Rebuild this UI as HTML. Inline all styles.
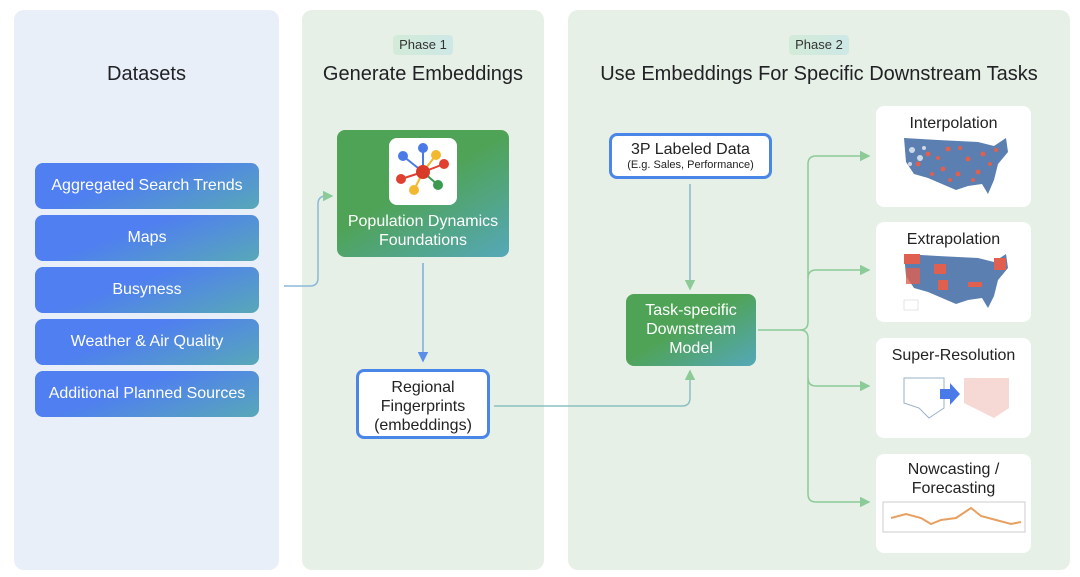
<!DOCTYPE html>
<html><head><meta charset="utf-8"><style>
*{margin:0;padding:0;box-sizing:border-box}
body{width:1080px;height:577px;background:#fff;position:relative;overflow:hidden;font-family:"Liberation Sans",sans-serif;color:#222}
.abs{position:absolute}
.panel{position:absolute;border-radius:10px}
.title{position:absolute;font-size:20px;text-align:center;color:#202124}
.badge{position:absolute;height:20px;border-radius:4px;background:linear-gradient(90deg,#d3ebd8,#cde8e6);font-size:13px;color:#333;text-align:center;line-height:20px}
.ds{position:absolute;left:35px;width:224px;height:46px;border-radius:8px;background:linear-gradient(160deg,#4f7ff0 40%,#58a8b8);color:#fff;font-size:16px;text-align:center;line-height:46px}
.green{position:absolute;border-radius:8px;background:linear-gradient(150deg,#4fa357 45%,#55a8b8);color:#fff;text-align:center}
.wb{position:absolute;background:#fff;border:3px solid #4a86e8;border-radius:8px;text-align:center;color:#222}
.card{position:absolute;left:876px;width:155px;background:#fff;border-radius:8px;text-align:center;font-size:16px;color:#222}
</style></head><body>
<div class="panel" style="left:14px;top:10px;width:265px;height:560px;background:#e8eff9"></div>
<div class="panel" style="left:302px;top:10px;width:242px;height:560px;background:#e7f0e7"></div>
<div class="panel" style="left:568px;top:10px;width:502px;height:560px;background:#e7f0e7"></div>

<div class="title" style="left:14px;width:265px;top:63px">Datasets</div>
<div class="badge" style="left:393px;top:35px;width:60px">Phase 1</div>
<div class="title" style="left:302px;width:242px;top:63px">Generate Embeddings</div>
<div class="badge" style="left:789px;top:35px;width:60px">Phase 2</div>
<div class="title" style="left:568px;width:502px;top:63px">Use Embeddings For Specific Downstream Tasks</div>

<div class="ds" style="top:163px">Aggregated Search Trends</div>
<div class="ds" style="top:215px">Maps</div>
<div class="ds" style="top:267px">Busyness</div>
<div class="ds" style="top:319px">Weather &amp; Air Quality</div>
<div class="ds" style="top:371px">Additional Planned Sources</div>

<div class="green" style="left:337px;top:130px;width:172px;height:127px;font-size:16px;line-height:19px;padding-top:82px">Population Dynamics<br>Foundations</div>
<div class="abs" style="left:389px;top:138px;width:68px;height:67px;background:#fff;border-radius:8px">
<svg width="68" height="67" viewBox="0 0 68 67">
<g stroke-width="2"><line x1="34" y1="34" x2="14" y2="18" stroke="#4a7ae8"/><line x1="34" y1="34" x2="34" y2="10" stroke="#4a7ae8"/><line x1="34" y1="34" x2="47" y2="17" stroke="#f2b830"/><line x1="34" y1="34" x2="55" y2="26" stroke="#e04030"/><line x1="34" y1="34" x2="12" y2="41" stroke="#e04030"/><line x1="34" y1="34" x2="25" y2="52" stroke="#f2b830"/><line x1="34" y1="34" x2="49" y2="47" stroke="#3a9a50"/></g>
<circle cx="14" cy="18" r="5" fill="#4a7ae8"/><circle cx="34" cy="10" r="5" fill="#4a7ae8"/><circle cx="47" cy="17" r="5" fill="#f2b830"/><circle cx="55" cy="26" r="5" fill="#e04030"/><circle cx="12" cy="41" r="5" fill="#e04030"/><circle cx="25" cy="52" r="5" fill="#f2b830"/><circle cx="49" cy="47" r="5" fill="#3a9a50"/><circle cx="34" cy="34" r="7" fill="#d83a2a"/>
</svg></div>

<div class="wb" style="left:356px;top:369px;width:134px;height:70px;font-size:16px;line-height:19px;padding-top:6px">Regional<br>Fingerprints<br>(embeddings)</div>
<div class="wb" style="left:609px;top:133px;width:163px;height:46px;padding-top:5px"><div style="font-size:16px">3P Labeled Data</div><div style="font-size:11px">(E.g. Sales, Performance)</div></div>
<div class="green" style="left:626px;top:294px;width:130px;height:72px;font-size:16px;line-height:19px;padding-top:7px">Task-specific<br>Downstream<br>Model</div>

<div class="card" style="top:106px;height:101px"><div style="margin-top:9px">Interpolation</div>
<svg width="112" height="62" style="margin-top:1px"><path d="M6 4 L40 6 L80 8 L96 12 L108 4 L110 18 L100 30 L96 46 L90 60 L84 50 L70 52 L58 56 L44 50 L30 44 L16 40 L8 28Z" fill="#5a7fb0"/><g fill="#e06050"><circle cx="30" cy="20" r="2.5"/><circle cx="50" cy="15" r="2.5"/><circle cx="70" cy="25" r="2.5"/><circle cx="45" cy="35" r="2.5"/><circle cx="85" cy="20" r="2.5"/><circle cx="60" cy="40" r="2.5"/><circle cx="20" cy="30" r="2.5"/><circle cx="80" cy="38" r="2.5"/><circle cx="40" cy="24" r="2"/><circle cx="62" cy="14" r="2"/><circle cx="75" cy="46" r="2"/><circle cx="92" cy="30" r="2"/><circle cx="52" cy="46" r="2"/><circle cx="34" cy="40" r="2"/><circle cx="98" cy="16" r="2"/></g><g fill="#fff" opacity=".7"><circle cx="14" cy="16" r="3"/><circle cx="22" cy="24" r="3"/><circle cx="12" cy="30" r="2"/><circle cx="26" cy="14" r="2"/></g></svg></div>
<div class="card" style="top:222px;height:100px"><div style="margin-top:9px">Extrapolation</div>
<svg width="112" height="62" style="margin-top:1px"><path d="M6 4 L40 6 L80 8 L96 12 L108 4 L110 18 L100 30 L96 46 L90 58 L84 48 L70 50 L58 54 L44 48 L30 42 L16 38 L8 26Z" fill="#5a7fb0"/><rect x="6" y="4" width="16" height="10" fill="#e06050"/><rect x="8" y="18" width="14" height="16" fill="#e06050" opacity=".8"/><rect x="36" y="14" width="12" height="10" fill="#e06050"/><rect x="40" y="30" width="10" height="10" fill="#e06050"/><rect x="96" y="8" width="12" height="12" fill="#e06050"/><rect x="70" y="32" width="14" height="5" fill="#e06050"/><rect x="6" y="50" width="14" height="10" fill="#fff" stroke="#ccc" stroke-width=".5"/></svg></div>
<div class="card" style="top:338px;height:100px"><div style="margin-top:9px">Super-Resolution</div>
<svg width="120" height="50" style="margin-top:8px"><path d="M10 5 L50 5 L50 35 L35 45 L25 35 L10 30Z" fill="none" stroke="#9ab0c8"/><path d="M70 5 L115 5 L115 35 L100 45 L80 35 L70 30Z" fill="#f6d8d4"/><path d="M46 16 L56 16 L56 10 L66 21 L56 32 L56 26 L46 26Z" fill="#4a7ae8"/></svg></div>
<div class="card" style="top:454px;height:99px"><div style="margin-top:6px;line-height:19px">Nowcasting /<br>Forecasting</div>
<svg width="146" height="38" style="margin-top:2px"><rect x="2" y="2" width="142" height="30" fill="none" stroke="#ccc"/><path d="M10 18 L25 14 L40 18 L50 24 L60 20 L75 18 L90 8 L100 16 L115 20 L130 24 L140 22" fill="none" stroke="#e8a060" stroke-width="2"/></svg></div>

<svg class="abs" style="left:0;top:0" width="1080" height="577">
<defs>
<marker id="ag" markerWidth="7" markerHeight="7" refX="6" refY="3.5" orient="auto"><path d="M0 0 L7 3.5 L0 7Z" fill="#8ccb98"/></marker>
<marker id="ab" markerWidth="7" markerHeight="7" refX="6" refY="3.5" orient="auto"><path d="M0 0 L7 3.5 L0 7Z" fill="#5a8ee8"/></marker>
</defs>
<g fill="none" stroke-width="1.5">
<path d="M284 286 L310 286 Q318 286 318 278 L318 204 Q318 196 326 196 L332 196" stroke="#8bb8d8" marker-end="url(#ag)"/>
<path d="M423 263 L423 361" stroke="#7aacd8" marker-end="url(#ab)"/>
<path d="M494 406 L682 406 Q690 406 690 398 L690 371" stroke="#8bc0c0" marker-end="url(#ag)"/>
<path d="M690 184 L690 289" stroke="#8ab8c8" marker-end="url(#ag)"/>
<path d="M758 330 L800 330 Q808 330 808 322 L808 164 Q808 156 816 156 L869 156" stroke="#8ccb98" marker-end="url(#ag)"/>
<path d="M808 278 Q808 270 816 270 L869 270" stroke="#8ccb98" marker-end="url(#ag)"/>
<path d="M800 330 Q808 330 808 338 L808 494 Q808 502 816 502 L869 502" stroke="#8ccb98" marker-end="url(#ag)"/>
<path d="M808 378 Q808 386 816 386 L869 386" stroke="#8ccb98" marker-end="url(#ag)"/>
</g></svg>
</body></html>
